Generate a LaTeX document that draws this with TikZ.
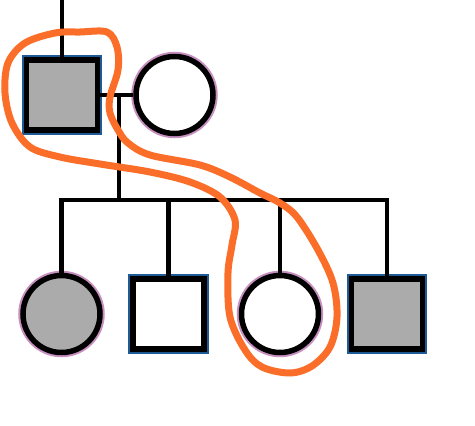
\documentclass[tikz,border=0pt]{standalone}
\begin{document}
\begin{tikzpicture}[x=1pt,y=-1pt,
  edge/.style={draw=black,line width=4.3pt},
  male/.style={rectangle,minimum width=71pt,minimum height=70pt,inner sep=0pt,
    draw=black,line width=5.5pt,
    preaction={draw=rimblue,line width=9.5pt}},
  female/.style={circle,minimum size=77pt,inner sep=0pt,
    draw=black,line width=5.5pt,
    preaction={draw=rimpink,line width=9.5pt}},
  affected/.style={fill=shade},
  unaffected/.style={fill=white},
  lasso/.style={draw=loop,line width=7pt,line cap=round,line join=round}
]
\definecolor{rimblue}{RGB}{30,90,150}
\definecolor{rimpink}{RGB}{200,144,192}
\definecolor{shade}{RGB}{171,171,171}
\definecolor{loop}{RGB}{250,110,42}
\useasboundingbox (0,0) rectangle (475,426);

% fixed points of the pedigree lines
\coordinate (above) at (62,0);
\coordinate (union) at (119,95);
\coordinate (sib) at (119,200);

% parents
\node[male,affected] (father) at (62,95) {};
\node[female,unaffected] (mother) at (174.5,95) {};

% children
\node[female,affected] (c1) at (61.5,314) {};
\node[male,unaffected] (c2) at (168.5,314) {};
\node[female,unaffected] (c3) at (280,314) {};
\node[male,affected] (c4) at (387,314) {};

% pedigree connectors
\draw[edge] (above) -- (father.north);
\draw[edge] (father.east) -- (mother.west);
\draw[edge] (union) -- (sib);
\draw[edge,line cap=rect] (c1 |- sib) -- (c4 |- sib);
\foreach \c in {c1,c2,c3,c4}
  \draw[edge] (\c |- sib) -- (\c.north);

% hand-drawn loop linking father and daughter
\draw[lasso] plot[smooth cycle,tension=0.55] coordinates {
  (107,32) (80,32) (55,33) (25,43) (8,63) (5,93) (12,123) (30,147)
  (60,157) (100,164) (150,172) (190,182) (220,197) (235,220) (232,245)
  (228,273) (230,317) (245,350) (262,367) (290,373) (312,366) (330,347)
  (337,317) (333,283) (318,250) (297,217) (280,203) (260,193) (230,177)
  (200,165) (150,155) (128,143) (118,130) (110,113) (110,97) (118,70)
  (117,47)
};
\end{tikzpicture}
\end{document}
